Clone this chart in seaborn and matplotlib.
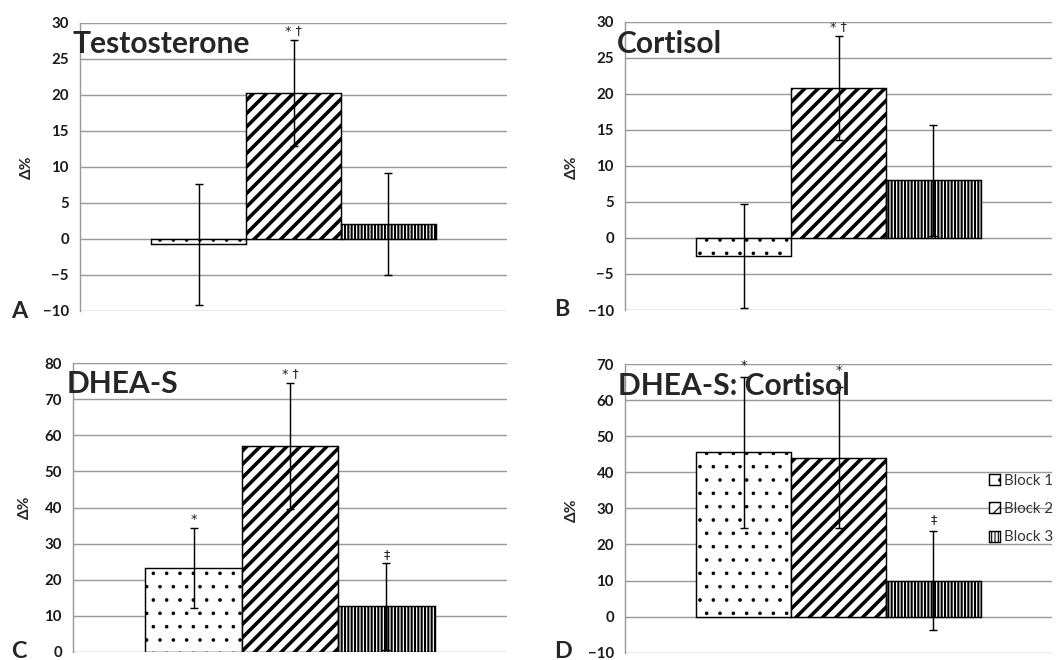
import matplotlib
matplotlib.use('Agg')
import matplotlib.pyplot as plt
import pandas as pd
import seaborn as sns

# data (percent change, mean and error)
blocks = ['Block 1', 'Block 2', 'Block 3']
panel_names = ['Testosterone', 'Cortisol', 'DHEA-S', 'DHEA-S: Cortisol']
panel_letters = ['A', 'B', 'C', 'D']

testo_mean = [-0.7, 20.3, 2.1]
testo_err = [8.4, 7.4, 7.1]
cort_mean = [-2.5, 20.8, 8.0]
cort_err = [7.2, 7.2, 7.7]
dhea_mean = [23.2, 57.0, 12.6]
dhea_err = [11.0, 17.5, 12.0]
ratio_mean = [45.5, 44.0, 10.0]
ratio_err = [21.0, 19.5, 13.8]

# significance marks: (block index, text, baseline value)
testo_marks = [(1, '* †', 28.4)]
cort_marks = [(1, '* †', 28.8)]
dhea_marks = [(0, '*', 35.7), (1, '* †', 76.3), (2, '‡', 26.0)]
ratio_marks = [(0, '*', 68.5), (1, '*', 67.2), (2, '‡', 25.8)]

y_limits = [(-10, 30), (-10, 30), (0, 80), (-10, 70)]
y_steps = [5, 5, 10, 10]

hatches = ['.', '//', '||||']
hatch_lw = [0.8, 3.2, 1.9]

sns.set_style('white')
plt.rcParams['font.family'] = ['Lato', 'DejaVu Sans']
plt.rcParams['hatch.color'] = 'black'

W, H = 1061, 660
fig = plt.figure(figsize=(W / 80, H / 80), dpi=80)

# axes boxes in pixels: left, top, right, bottom
boxes = [(80, 23, 507, 311), (625, 21.7, 1052, 310),
         (73, 363.3, 507, 651.7), (625, 364, 1052, 652.7)]
title_pos = [(-0.018, 0.895), (-0.018, 0.892), (-0.014, 0.896), (-0.016, 0.893)]
letter_pos = [(11, 318), (554, 316), (11, 658), (554, 658)]
ylabel_pos = [(27, 167), (572, 167), (25, 507), (572, 510)]

means = [testo_mean, cort_mean, dhea_mean, ratio_mean]
errs = [testo_err, cort_err, dhea_err, ratio_err]
marks = [testo_marks, cort_marks, dhea_marks, ratio_marks]

grid_col = '#9a9a9a'

for i in range(4):
    l, t, r, b = boxes[i]
    ax = fig.add_axes([l / W, 1 - b / H, (r - l) / W, (b - t) / H])
    df = pd.DataFrame({'grp': [''] * 3, 'block': blocks, 'value': means[i]})
    sns.barplot(data=df, x='grp', y='value', hue='block', hue_order=blocks,
                palette=['white'] * 3, edgecolor='black', linewidth=1.3,
                width=0.667, errorbar=None, legend=False, ax=ax, zorder=2)
    bars = list(ax.patches)
    for p, h, lw in zip(bars, hatches, hatch_lw):
        p.set_hatch(h)
        try:
            p.set_hatch_linewidth(lw)
        except AttributeError:
            pass
    centers = [p.get_x() + p.get_width() / 2 for p in bars]
    ax.errorbar(centers, means[i], yerr=errs[i], fmt='none', ecolor='black',
                elinewidth=1.3, capsize=3.5, capthick=1.3, zorder=3)
    for k, txt, yv in marks[i]:
        ax.text(centers[k], yv, txt, ha='center', va='baseline', fontsize=11.5,
                family=['DejaVu Sans'], color='#202020', zorder=4)

    lo, hi = y_limits[i]
    ax.set_xlim(-0.5, 0.5)
    ax.set_ylim(lo, hi)
    ax.set_yticks(range(lo, hi + 1, y_steps[i]))
    ax.set_xticks([])
    ax.set_xlabel('')
    ax.set_ylabel('')
    ax.yaxis.grid(True, color=grid_col, linewidth=1.3, zorder=0)
    ax.set_axisbelow(True)
    for s in ['top', 'right', 'bottom']:
        ax.spines[s].set_visible(False)
    ax.spines['left'].set_color(grid_col)
    ax.spines['left'].set_linewidth(1.3)
    ax.tick_params(axis='y', length=4, width=1.3, color=grid_col, pad=6,
                   labelsize=13.5)
    for lab in ax.get_yticklabels():
        lab.set_fontweight('bold')
        lab.set_color('#1a1a1a')

    ax.text(title_pos[i][0], title_pos[i][1], panel_names[i], transform=ax.transAxes,
            fontsize=27, fontweight='bold', ha='left', va='baseline', zorder=5)
    fig.text(letter_pos[i][0] / W, 1 - letter_pos[i][1] / H, panel_letters[i],
             fontsize=21, fontweight='bold', ha='left', va='baseline')
    fig.text(ylabel_pos[i][0] / W, 1 - ylabel_pos[i][1] / H, 'Δ%', rotation=90,
             fontsize=14, fontweight='bold', ha='center', va='center')

    if i == 3:
        ax.legend(bars, blocks, loc='center left', frameon=False,
                  bbox_to_anchor=(978 / W, 1 - 509 / H), bbox_transform=fig.transFigure,
                  fontsize=13.5, handlelength=0.75, handleheight=0.75,
                  handletextpad=0.3, labelspacing=0.95, labelcolor='#333333',
                  borderpad=0.2)

fig.savefig('out.png', dpi=80)
